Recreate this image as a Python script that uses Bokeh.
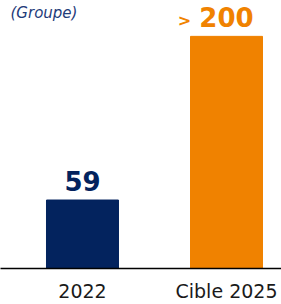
from bokeh.plotting import figure
from bokeh.models import Range1d, FixedTicker, ColumnDataSource, Label
from bokeh.core.properties import value
from bokeh.embed import file_html
from bokeh.resources import INLINE

categories = ["2022", "Cible 2025"]
values = [59, 200]
value_labels = ["59", "200"]
prefixes = ["", ">"]
bar_colors = ["#03235E", "#F08200"]
title_text = "(Groupe)"

xs = list(range(len(categories)))

p = figure(width=281, height=304, output_backend="svg", toolbar_location=None,
           x_range=Range1d(-0.5694, 1.3819), y_range=Range1d(0, 230.9),
           min_border_left=0, min_border_right=0, min_border_top=0, min_border_bottom=0)
p.outline_line_color = None
p.grid.visible = False
p.yaxis.visible = False
p.background_fill_color = "white"
p.border_fill_color = "white"

src = ColumnDataSource(dict(x=xs, top=values, color=bar_colors, lab=value_labels, pre=prefixes))
p.vbar(x="x", top="top", width=0.5, color="color", source=src)

p.text(x="x", y="top", text="lab", source=src, text_color="color",
       text_font=value("DejaVu Sans"), text_font_style="bold", text_font_size="26px",
       text_align="center", text_baseline="bottom", y_offset=-9)
p.text(x="x", y="top", text="pre", source=src, text_color="color",
       text_font=value("DejaVu Sans"), text_font_style="bold", text_font_size="16px",
       text_align="center", text_baseline="bottom", y_offset=-6, x_offset=-42)

p.add_layout(Label(x=-0.5, y=227.5, text=title_text, text_color="#1F3C7A",
                   text_font="DejaVu Sans", text_font_style="italic", text_font_size="15px",
                   text_align="left", text_baseline="top"))

ax = p.xaxis[0]
ax.ticker = FixedTicker(ticks=xs)
ax.major_label_overrides = {i: c for i, c in zip(xs, categories)}
ax.axis_line_color = "#000000"
ax.axis_line_width = 1.5
ax.major_tick_line_color = None
ax.minor_tick_line_color = None
ax.major_tick_out = 0
ax.major_tick_in = 0
ax.minor_tick_out = 0
ax.minor_tick_in = 0
ax.axis_label = None
ax.axis_label_standoff = 0
ax.major_label_standoff = 11
ax.major_label_text_font = "DejaVu Sans"
ax.major_label_text_font_size = "19px"
ax.major_label_text_color = "#1a1a1a"

open("out.html", "w").write(file_html(p, INLINE))
